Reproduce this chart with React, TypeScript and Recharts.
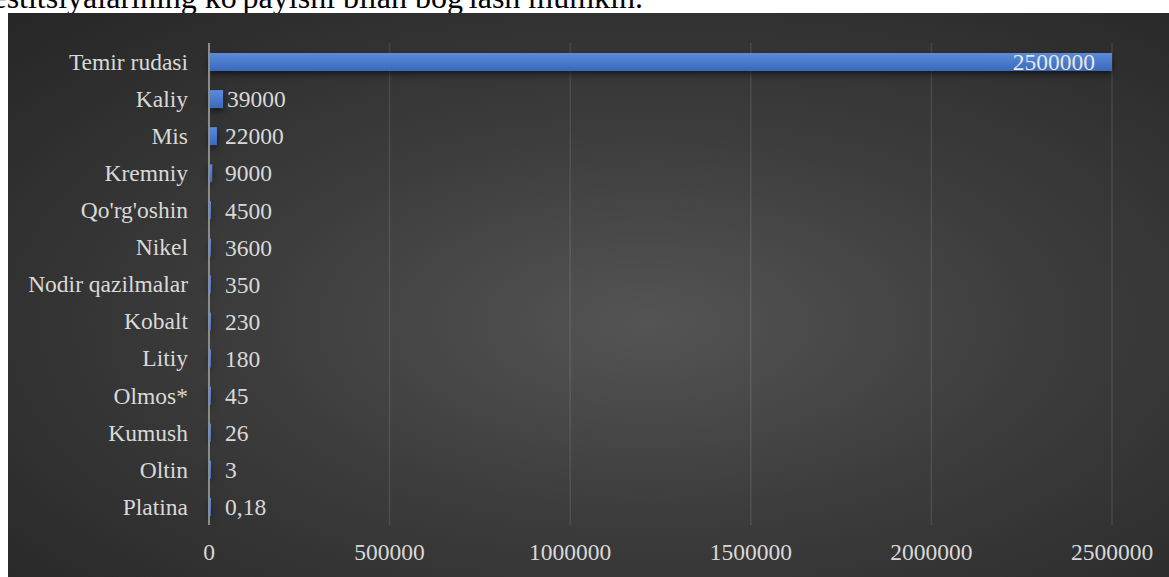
import React from 'react';
import { BarChart, Bar, XAxis, YAxis, CartesianGrid, LabelList } from 'recharts';

const categories = [
    'Temir rudasi', 'Kaliy', 'Mis', 'Kremniy', "Qo'rg'oshin", 'Nikel', 'Nodir qazilmalar',
    'Kobalt', 'Litiy', 'Olmos*', 'Kumush', 'Oltin', 'Platina',
];
const values = [2500000, 39000, 22000, 9000, 4500, 3600, 350, 230, 180, 45, 26, 3, 0.18];
const xTicks = [0, 500000, 1000000, 1500000, 2000000, 2500000];

const data = categories.map((name, i) => ({ name, value: values[i] }));

const SERIF = 'Liberation Serif';
const TEXT = '#d9d9d9';
const FS = 23.5;

const fmt = (v: number) => String(v).replace('.', ',');

function ValueLabel(props: any) {
    const { x, y, width, height, value, index } = props;
    const cy = y + height / 2;
    if (index === 0) {
        return (
            <text x={x + width - 17} y={cy} dy="0.35em" textAnchor="end" fill="#e6e6e6"
                style={{ fontFamily: SERIF, fontSize: FS }}>
                {fmt(value)}
            </text>
        );
    }
    const lx = Math.max(x + width + 4, x + 16);
    return (
        <text x={lx} y={cy} dy="0.35em" textAnchor="start" fill={TEXT}
            style={{ fontFamily: SERIF, fontSize: FS }}>
            {fmt(value)}
        </text>
    );
}

export default function App() {
    return (
        <div style={{ position: 'absolute', left: 0, top: 0, width: 1169, height: 577, overflow: 'hidden', background: '#fff', fontFamily: SERIF }}>
            <div style={{
                position: 'absolute', right: 526, top: -19, whiteSpace: 'nowrap',
                fontSize: 32, lineHeight: '32px', color: '#000',
            }}>
                investitsiyalarining ko'payishi bilan bog'lash mumkin.
            </div>
            <div style={{
                position: 'absolute', left: 8, top: 13, width: 1161, height: 564,
                background: 'radial-gradient(ellipse at 55% 55%, #545454 0%, #3c3c3c 45%, #262626 100%)',
            }}>
                <BarChart
                    width={1161}
                    height={564}
                    data={data}
                    layout="vertical"
                    margin={{ top: 30, right: 57, bottom: 0, left: 0 }}
                    barSize={18}
                    style={{ fontFamily: SERIF }}
                >
                    <defs>
                        <linearGradient id="barFill" x1="0" y1="0" x2="0" y2="1">
                            <stop offset="0%" stopColor="#5b8bd9" />
                            <stop offset="100%" stopColor="#3a69bd" />
                        </linearGradient>
                    </defs>
                    <CartesianGrid horizontal={false} stroke="rgba(255,255,255,0.1)" strokeWidth={1.5} />
                    <XAxis
                        type="number"
                        domain={[0, 2500000]}
                        ticks={xTicks}
                        height={52}
                        axisLine={false}
                        tickLine={false}
                        tickSize={0}
                        tickMargin={18}
                        interval={0}
                        tick={{ fill: TEXT, fontSize: FS, fontFamily: SERIF, style: { fontFamily: SERIF } }}
                    />
                    <YAxis
                        type="category"
                        dataKey="name"
                        width={201}
                        axisLine={{ stroke: '#8c8c8c', strokeWidth: 2 }}
                        tickLine={false}
                        tickSize={0}
                        tickMargin={21}
                        interval={0}
                        tick={{ fill: TEXT, fontSize: FS, fontFamily: SERIF, style: { fontFamily: SERIF } }}
                    />
                    <Bar
                        dataKey="value"
                        fill="url(#barFill)"
                        minPointSize={2}
                        isAnimationActive={false}
                        style={{ filter: 'drop-shadow(0px 3px 3px rgba(0,0,0,0.55))' }}
                    >
                        <LabelList dataKey="value" content={ValueLabel} />
                    </Bar>
                </BarChart>
            </div>
        </div>
    );
}
